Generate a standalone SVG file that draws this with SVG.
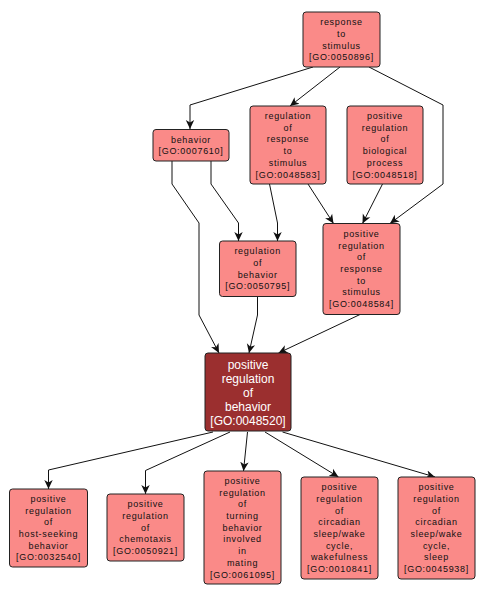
<svg xmlns="http://www.w3.org/2000/svg" width="486" height="598" viewBox="0 0 486 598">
<style>
.n rect{fill:#fa8a88;stroke:#222;stroke-width:1}
.n text{font-family:"Liberation Sans",Arial,sans-serif;font-size:9px;letter-spacing:0.7px;fill:#111;text-anchor:middle}
.d rect{fill:#9b2f2f;stroke:#222;stroke-width:1}
.d text{font-family:"Liberation Sans",Arial,sans-serif;font-size:12px;fill:#fff;text-anchor:middle}
.e polyline{fill:none;stroke:#111;stroke-width:1}
</style>
<defs>
<marker id="a" markerUnits="userSpaceOnUse" markerWidth="10" markerHeight="10" refX="9" refY="5" orient="auto">
<path d="M0,0.8 L9,5 L0,9.2 L2.5,5 z" fill="#111"/>
</marker>
</defs>
<rect width="486" height="598" fill="#fff"/>
<g id="edges" class="e">
<polyline points="313,67 190,105 190,129" marker-end="url(#a)"/>
<polyline points="340,67 290,106" marker-end="url(#a)"/>
<polyline points="369,67 443,105 443,184 390,223.5" marker-end="url(#a)"/>
<polyline points="172,161 172,184 199,223 199,315 219,353" marker-end="url(#a)"/>
<polyline points="211,161 211,184 238.5,223 238.5,241" marker-end="url(#a)"/>
<polyline points="269.5,184 277.5,223 277.5,241" marker-end="url(#a)"/>
<polyline points="308,184 333.5,223.5" marker-end="url(#a)"/>
<polyline points="382.5,184 362.5,223.5" marker-end="url(#a)"/>
<polyline points="257.5,296.5 257.5,315 249,353" marker-end="url(#a)"/>
<polyline points="360,314.5 278.5,353" marker-end="url(#a)"/>
<polyline points="213,432 48.5,470 48.5,489" marker-end="url(#a)"/>
<polyline points="230,432 145.5,470.5 145.5,494" marker-end="url(#a)"/>
<polyline points="247.5,432 243.5,471" marker-end="url(#a)"/>
<polyline points="265,432 338.5,477" marker-end="url(#a)"/>
<polyline points="282.5,432 435,477" marker-end="url(#a)"/>
</g>
<g id="GO0050896" class="n"><rect x="303" y="12" width="77" height="55" rx="3"/>
<text><tspan x="341.5" y="25.2">response</tspan><tspan x="341.5" y="36.9">to</tspan><tspan x="341.5" y="48.6">stimulus</tspan><tspan x="341.5" y="60.3">[GO:0050896]</tspan></text></g>
<g id="GO0007610" class="n"><rect x="153" y="129.5" width="76" height="31.5" rx="3"/>
<text><tspan x="191" y="142.6">behavior</tspan><tspan x="191" y="154.3">[GO:0007610]</tspan></text></g>
<g id="GO0048583" class="n"><rect x="250" y="106" width="76" height="78" rx="3"/>
<text><tspan x="288" y="119">regulation</tspan><tspan x="288" y="130.7">of</tspan><tspan x="288" y="142.4">response</tspan><tspan x="288" y="154.1">to</tspan><tspan x="288" y="165.8">stimulus</tspan><tspan x="288" y="177.5">[GO:0048583]</tspan></text></g>
<g id="GO0048518" class="n"><rect x="347" y="106" width="76" height="78" rx="3"/>
<text><tspan x="385" y="119">positive</tspan><tspan x="385" y="130.7">regulation</tspan><tspan x="385" y="142.4">of</tspan><tspan x="385" y="154.1">biological</tspan><tspan x="385" y="165.8">process</tspan><tspan x="385" y="177.5">[GO:0048518]</tspan></text></g>
<g id="GO0050795" class="n"><rect x="219.5" y="241" width="76.5" height="55.5" rx="3"/>
<text><tspan x="257.7" y="254.2">regulation</tspan><tspan x="257.7" y="265.9">of</tspan><tspan x="257.7" y="277.6">behavior</tspan><tspan x="257.7" y="289.3">[GO:0050795]</tspan></text></g>
<g id="GO0048584" class="n"><rect x="323" y="223.5" width="77" height="91" rx="3"/>
<text><tspan x="361.5" y="236.9">positive</tspan><tspan x="361.5" y="248.6">regulation</tspan><tspan x="361.5" y="260.3">of</tspan><tspan x="361.5" y="272">response</tspan><tspan x="361.5" y="283.7">to</tspan><tspan x="361.5" y="295.4">stimulus</tspan><tspan x="361.5" y="307.1">[GO:0048584]</tspan></text></g>
<g id="GO0048520" class="d"><rect x="205" y="353" width="86" height="78" rx="3"/>
<text><tspan x="248" y="368.8">positive</tspan><tspan x="248" y="382.8">regulation</tspan><tspan x="248" y="396.8">of</tspan><tspan x="248" y="410.8">behavior</tspan><tspan x="248" y="424.8">[GO:0048520]</tspan></text></g>
<g id="GO0032540" class="n"><rect x="9.5" y="489" width="78" height="78" rx="3"/>
<text><tspan x="48.5" y="501.8">positive</tspan><tspan x="48.5" y="513.5">regulation</tspan><tspan x="48.5" y="525.2">of</tspan><tspan x="48.5" y="536.9">host-seeking</tspan><tspan x="48.5" y="548.6">behavior</tspan><tspan x="48.5" y="560.3">[GO:0032540]</tspan></text></g>
<g id="GO0050921" class="n"><rect x="107" y="494" width="77" height="67" rx="3"/>
<text><tspan x="145.5" y="507.3">positive</tspan><tspan x="145.5" y="519">regulation</tspan><tspan x="145.5" y="530.7">of</tspan><tspan x="145.5" y="542.4">chemotaxis</tspan><tspan x="145.5" y="554.1">[GO:0050921]</tspan></text></g>
<g id="GO0061095" class="n"><rect x="204" y="471" width="77" height="113" rx="3"/>
<text><tspan x="242.5" y="483.9">positive</tspan><tspan x="242.5" y="495.6">regulation</tspan><tspan x="242.5" y="507.3">of</tspan><tspan x="242.5" y="519">turning</tspan><tspan x="242.5" y="530.7">behavior</tspan><tspan x="242.5" y="542.4">involved</tspan><tspan x="242.5" y="554.1">in</tspan><tspan x="242.5" y="565.8">mating</tspan><tspan x="242.5" y="577.5">[GO:0061095]</tspan></text></g>
<g id="GO0010841" class="n"><rect x="301" y="477" width="77" height="102" rx="3"/>
<text><tspan x="339.5" y="490.1">positive</tspan><tspan x="339.5" y="501.8">regulation</tspan><tspan x="339.5" y="513.5">of</tspan><tspan x="339.5" y="525.2">circadian</tspan><tspan x="339.5" y="536.9">sleep/wake</tspan><tspan x="339.5" y="548.6">cycle,</tspan><tspan x="339.5" y="560.3">wakefulness</tspan><tspan x="339.5" y="572">[GO:0010841]</tspan></text></g>
<g id="GO0045938" class="n"><rect x="398" y="477" width="77" height="102" rx="3"/>
<text><tspan x="436.5" y="490.1">positive</tspan><tspan x="436.5" y="501.8">regulation</tspan><tspan x="436.5" y="513.5">of</tspan><tspan x="436.5" y="525.2">circadian</tspan><tspan x="436.5" y="536.9">sleep/wake</tspan><tspan x="436.5" y="548.6">cycle,</tspan><tspan x="436.5" y="560.3">sleep</tspan><tspan x="436.5" y="572">[GO:0045938]</tspan></text></g>
</svg>
